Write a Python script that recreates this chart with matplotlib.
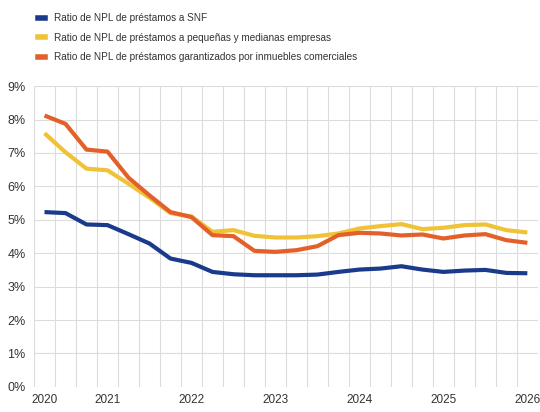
import matplotlib
matplotlib.use('Agg')
import matplotlib.pyplot as plt
from matplotlib.lines import Line2D

plt.rcParams['font.family'] = ['Liberation Sans', 'DejaVu Sans']

# trimestres (24 puntos), etiquetas de año en posiciones concretas
n_trim = 24
etiquetas_x = {0: '2020', 3: '2021', 7: '2022', 11: '2023', 15: '2024', 19: '2025', 23: '2026'}

npl_snf = [5.23, 5.20, 4.86, 4.84, 4.57, 4.29, 3.84, 3.71, 3.44, 3.37, 3.34, 3.34,
           3.34, 3.36, 3.44, 3.51, 3.54, 3.61, 3.51, 3.44, 3.48, 3.50, 3.41, 3.40]
npl_pyme = [7.59, 7.02, 6.53, 6.48, 6.08, 5.66, 5.20, 5.10, 4.64, 4.69, 4.52, 4.47,
            4.47, 4.51, 4.59, 4.74, 4.81, 4.87, 4.72, 4.76, 4.84, 4.86, 4.69, 4.62]
npl_inmuebles = [8.12, 7.87, 7.10, 7.04, 6.26, 5.73, 5.23, 5.08, 4.54, 4.51, 4.07, 4.04,
                 4.09, 4.21, 4.54, 4.61, 4.59, 4.53, 4.56, 4.44, 4.53, 4.57, 4.39, 4.31]

nombres = ['Ratio de NPL de préstamos a SNF',
           'Ratio de NPL de préstamos a pequeñas y medianas empresas',
           'Ratio de NPL de préstamos garantizados por inmuebles comerciales']
colores = ['#1a3a8c', '#f0c235', '#e3602a']

fig = plt.figure(figsize=(5.4, 4.12), dpi=100)
ax = fig.add_axes([0.063, 0.061, 0.933, 0.730])

x = list(range(n_trim))
for serie, col in zip([npl_snf, npl_pyme, npl_inmuebles], colores):
    ax.plot(x, serie, color=col, lw=3.0, solid_capstyle='butt', solid_joinstyle='round')

ax.set_xlim(-0.5, n_trim - 0.5)
ax.set_ylim(0, 9)
ax.set_yticks(range(0, 10))
ax.set_yticklabels([f'{i}%' for i in range(0, 10)])
ax.set_xticks(list(etiquetas_x.keys()))
ax.set_xticklabels(list(etiquetas_x.values()))
ax.set_xticks([i + 0.5 for i in range(-1, n_trim)], minor=True)

ax.grid(axis='y', which='major', color='#dcdcdc', lw=0.8)
ax.grid(axis='x', which='minor', color='#dcdcdc', lw=0.8)
ax.set_axisbelow(True)
for s in ax.spines.values():
    s.set_visible(False)
ax.tick_params(which='both', length=0, colors='#333333')
ax.tick_params(axis='y', pad=6, labelsize=9)
ax.tick_params(axis='x', pad=5, labelsize=8.5)

handles = [Line2D([], [], color=c, lw=4) for c in colores]
fig.legend(handles, nombres, loc='upper left', bbox_to_anchor=(0.058, 0.985), frameon=False,
           fontsize=7.2, handlelength=0.7, handletextpad=0.9, labelspacing=0.95,
           labelcolor='#333333', borderaxespad=0.3)

fig.savefig('out.png', dpi=100)
